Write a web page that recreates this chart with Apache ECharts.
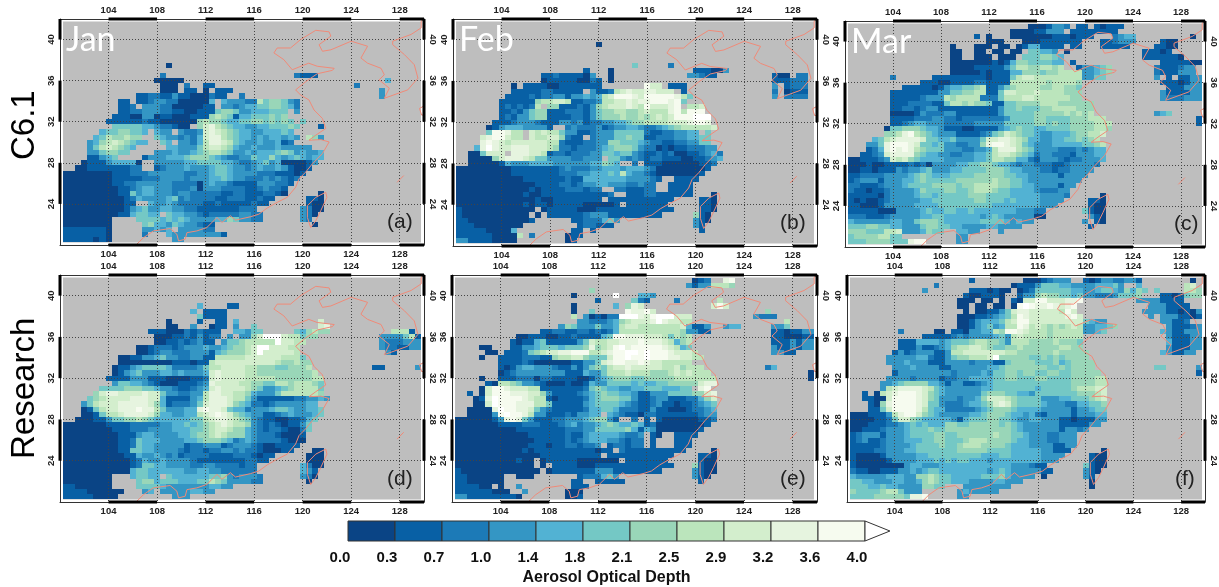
<!DOCTYPE html>
<html><head><meta charset="utf-8">
<style>html,body{margin:0;padding:0;background:#fff}#c{width:1219px;height:587px}</style>
<script src="https://cdn.jsdelivr.net/npm/echarts@6/dist/echarts.min.js"></script>
</head><body><div id="c"></div>
<script>
const palette=['#0a4485','#0860a5','#1c7ab7','#3496c4','#52b2d3','#74c8c5','#99d6b8','#bbe5bc','#d3eecd','#e6f4df','#f6fbef','#ffffff'];
const barLabels=['0.0','0.3','0.7','1.0','1.4','1.8','2.1','2.5','2.9','3.2','3.6','4.0'];
// Rows run from lat 42 down in 0.5 degree steps. Each space-separated block starts at column 0,10,20,...
// (column 0 = lon 100, 0.5 degrees per column). Characters are colour classes 0-b, '.' = no retrieval.
const janRows=["","","","","","","","","",". ........0.","",". .......2.. . .........2 111",". ......0000 0. . . ....4",". .......000 .2..11 . .........2 . ....4",". .......000 .11.0.111 . . ...3",". ...1122113 11000211.. 2 . ...3",". 11.1123322 000004.433 3227566532",". 112.333220 000011.332 3445566542",". 1122333221 1001115665 33444555.3",".........1 1100330110 0011167651 44555656..","........11 1111211000 0006766544 556656565. 5",".........5 5555443221 00.6897654 4334455565 ...1",".......455 66554.433. 3223898765 443344454.","......4576 6766..5433 2324899765 4434344343 .763",".....34678 76544..54. 3324799875 433433412.",".....35787 654.....44 3335788764 3343334333 33",".....33566 55....3334 3345677653 3434445653 4334",".....11345 ....133344 4566654322 3354464345 4344","....011134 4440..3333 3445555443 2234534000 013","...0011111 1122..1233 3433345543 3234334310 01",".000000001 1122233333 3223345543 3332221110 1",".000000001 1111222333 3233344543 3222323212",".000000001 1223333332 2220343321 111333221.",".000000000 1123443332 2230333222 21123221..",".000000000 1153443332 3322222112 21112210.. ...0",".000000000 0124333345 2322221122 211211.... .110",".000000000 011..43343 2222112111 11211..... .100",".000000000 0134533443 3221111111 222 3200",".000000000 1145544.54 4332122222 3322 320",".00000000. ...5555454 5433334465 3322 32",".00000000. ....564435 433211 . ..0",".11111110. ....33434. 333322",".11111110. ....2...43 33333331",".11111010. .........3 3"];
const febRows=["","","","","",". . ....0","","","",". . . 5.....2",". . ..1...0 . 111003",". .....11211 1103..0 .........3 3211 ...100.22",". .....01111 10021.0 . . ...111222",". 0.11110011 11111 ..a88.111. . ...3.1222",". 1111122111 11.3112789 8899888.1. . ...2.0111",".........1 1112122331 3343478aaa 98aaaaa975 . ...3.2222","........11 1111677887 1122377889 899aaa9a5.","........12 12127.6611 1213678889 87a8889a.7 78","........11 2135661112 2213566776 6787779a7a aa","........12 1335661111 2213566676 6767878aaa bbb",".......111 2333211133 2312233445 6677778889 aa9","......0134 4433331..2 3222312334 4322345677 7778","......5aa9 77.8787753 3112333555 5521122334 4.5",".....89aa8 77.8778862 11.2333556 5511222334 455",".....9a987 8888887721 1122336655 5432211223 355","....49b988 9998887622 1222345666 5322010112 2233","...005888. 9998871221 2223355455 3211212001 12342","...0000689 9987553333 22333.5532 3212211100 11234","...0000014 3334444333 33344654.. 2.11100000 0112",".000000000 1111111123 2223344434 4432000000 001",".000000000 1111111122 2334445474 3321000000 01",".000000000 0011111112 1144444443 33321..111 1",".000000000 0000111122 1233443332 2322..1111",".000000000 0001011112 22122..221 1122..1111",".000000000 0010011111 1111112..1 1122111111 ...0",".000000000 0000100111 11111.1111 1111111 .110",".000000000 0010110111 11000001.1 111111 .110",".100000000 0000.01111 1000111111 1111111 .110",".100000000 000.0.1111 1123331111 11111 610",".110000000 0001...... 11222453 . 310",".111000000 00 .122111 . 31",".111110000 4 11.1 . .1",".111111000 07.2.....0 11",".331111000 0........0 1"];
const marRows=["",". . . .0001332.1 1.10111",". . ........00 0011333.11 111111",". . ..1.0...00 0000011101 11...2344. ........0",". . ....000 0001111111 ...112333. ...100",". ........0. ..000.00.0 1441111.11 ...11111 ..1100",". ........00 ..00.00.00 .55443.0 . 11101",". ........00 ..000.000. 5556654 . 1111110",". ........00 0000010146 6555544.1. . ...1111100",". ........00 0011111357 7667767..1 33456 ..2111233",". ........00 0001011144 6665667777 33456 ..2111333","........2. .....11111 1111011157 8877777777 3355 ..3.1.1133",". ...1110011 1122111177 7777677776 . ...1110133",". 1111101344 5567113567 7776677665 . ....111333","........11 1111113355 6677115887 7787777666 . ...3111133","........11 1112333767 7772225777 8877777766 . ...3222333","........11 1222211577 6766511556 6667776666 66","........11 2212331111 1111113556 5556677776 66","........00 0013222331 1111113555 5566666767 67 ..345","........11 1122233221 2222222355 5566555566 6777 .........1","........11 2344333222 2233333555 5566565566 66777 .........1",".......055 6665443111 0011113456 5544555566 66776",".......667 9a76543331 1112356876 5543344456 6778",".....45789 9998554453 3335889987 6443344556 567","....3359aa a985545332 23369aa987 5433344444 5567","....1249a9 a976555333 2233479997 6533332223 2344","...1123899 9965443322 3344578876 5423322213 3344",".001112387 8654444333 3344577664 4213332122 3334",".000100111 1212033334 4556654432 3322211233 332",".001101113 2334533344 5555666544 3332212233 33",".112222333 3456544455 5566666554 4333331333 3",".123331333 4456555556 6666676655 4333333333",".221112333 4555566665 6677776655 443333133.",".211011233 3346555665 5677765544 44322233",".111110233 3345545555 5666555544 44433332 ...0",".101001233 3334455555 5566555454 4443333 .110",".110001333 3344445555 5555544444 444333 .100",".111110003 3334544554 4544444443 3322 5100",".222111233 3334455444 4443454333 3300 .310",".433333344 3356665444 4445555434 33 3.10",".555665544 3335665544 3333443333 . .1",".666555778 3334655..4 433...3",".566667755 .........3 3",".555666655 59aa.....3 3"];
const janResRows=["","","","","","",". . ...4....11",". . ..4.1111",". . ...51111",". ........0. ...1..11.4 . ...8",". ........00 ..3..011.3 ..5 ...89",". .....11100 0212111..4 4355.....5 46766 .....7771",". ......0001 1213122.3. 3368bbb877 566 ...3333571",". ......0011 212311.355 677777b887 7 ...3222333",". ...0012221 2333433456 678bb88877 . ...3221133",". ...0012332 2233314566 678b888887 . ....31",". 0011334533 2233117777 7888888777 5",". 0000000001 1101178888 8888887667 66",".........0 1134555542 2223577888 8776665566 67 ..11.....3",".........0 1345333443 4333489888 8776666666 667","........11 1133311100 0011289888 8777776666 6677",".........3 5544321000 1112398888 7766557767 7765",".......555 5666554332 1123489888 8765334567 7775","......6899 8888988533 2233799887 7643335777 7776",".....56788 8899988411 1134799987 7531111112 23343","....357888 9999986412 2235899986 5422123333 344","....015788 999a997533 3449a99854 4233345543 3445","....001577 8999986443 344789a986 5433112343 3345","...0001135 5667654444 4455789987 6532110011 245",".000000011 1122222334 4545678987 7632121011 35",".000000001 1122233334 4455678876 6432122100 25",".000000000 1113443333 4456678766 6432221000 1",".000000000 1125444333 3445666542 3432222100 0",".000000000 1125443333 3122333123 3321001111",".000000000 1155443333 2122122332 322100011. ..00",".000000000 0114334323 1222211112 221011 .000",".000000000 0012433433 3321111111 12211 .000",".000000000 0012554433 3322332222 122 4200",".000000000 0045544444 4334433222 222 431",".00000000. ..45544.54 4444455632 3332 320",".00000000. ...5664555 4445576533 3322 .0",".11000000. ...5555433 333334433",".111100000 0...34.333 334433",".111110000 .........3 33"];
const febResRows=["",". . . . 012..9a",". . . .........3 1337776",". . ...6",". . 0......b.. .443",". . ....1 521....2.. ....7",". . 0......4.6 98 ...8a8",". . 0..5.....a 99a8 . ..6",". . 7.301022bb b98abbb888 . 3222",". . .332223467 8889b98877 . .....7",". ........36 5333533478 8777777784 113..344 ...335",". .....11221 1221212477 7777777763 311 ...1101133",". .001110011 2111145aa9 9988875767 . ...1100011",". 1011451111 1358778899 9a99987467 . ...1113133",".....00... 1133455545 5569678ab9 aaaaa98745 . ...3113133","......00.1 1125678899 aaa7789aab babaaa9888 7 ...3311",".....0..11 1122211677 8865558aab aabaaa9988 77","........11 1121000000 1133589aa9 9a98877777","........10 1344333211 3135657889 8888877867 77 ..24","........01 2333333331 1143357778 7776667878 777 .........0",".....0..11 1222022111 1001345666 5566666777 7777 .........0","......1077 6533210001 0014335555 4544556666 6899",".....08aa9 8887711111 1125654433 4455544455 .9a","...1.08aaa 9998863111 1234565544 3113335555 6689","....019baa aa98771011 1124566655 3112331112 2468","....008baa a999775111 1134555543 2112311011 2345","...00009ba a998532111 1124455422 2113110001 2234","...00003ab aa97331112 13344.4321 1022111111 1233",".000000139 a953111223 33456631.. 2.1.100000 0112",".000000011 1122211123 4233456544 5412000000 001",".000000000 0111111112 2233555556 4143000000 01",".000000000 0001111112 1134444432 23.10..111 1",".000000000 0000111112 1234443321 22.1...111",".000000000 0001110112 21223.1221 22.1...111",".000000000 0010111111 1111011.21 111111111. ...0",".000000000 0000011111 11111.1111 1111111 .110",".000000000 0100.01111 10000000.1 111111 .100",".000000000 0000.0.111 1000111111 1111111 6100",".100000000 00000.0111 1111333111 11111 3100",".11000000. .000 .1222453 . 310",".11000000. . 11..11111 . .1",".111100.0. .3 111",".111111000 ..3......0 00",".331111111 10.......0 01"];
const marResRows=["",". . .1 00012333 1013322331 ........0",". .....2 ........01 1135554433 3344453..4 .......78",". ...3 .1110100.0 1255555544 3345543646 5.5....776",". . 1001110..1 3367665545 3322235556 ...1101566",". .........0 00.00.0.10 88aa88899a .........3 3331111",". .........0 0.00.00.0a ba99a989a. . .3331111",". . 0.00113589 9888887a8. . 3333110103",". .........0 001123457a 98888889a8 . .3.3331101",". .........0 013444578a a888888888 5433 ...33112",". .........0 013453477a 9787676787 334456 ....311123",".........2 .....00.11 0334476aa9 8777677777 3345 ...4311333",". ...1111123 2333345378 7777677777 . ....311133",".........1 1144443455 5677665377 7666676665 . ....411133",".........1 1131123467 7887655667 6666667766 . ....311133","........13 1233311377 8888888776 6666676666 6 ...431133",".......333 3344211356 67778b6666 6556565666 6",".......333 4333111333 3233311566 6655564566 66","........33 3433331133 3333445666 6666556566 66 ..55.....3","........13 3333333323 3334355665 6655665566 666 .........1",".......333 3233331223 3444455665 5566555566 6677","......3345 6666443133 1123455555 5555555566 6677","......3789 9998754333 3334455555 5545555567 7788","...1.0789a aa98654333 3335666554 4355555556 6678","...11008aa aa98653332 3346888765 5553334455 5678","....1069aa aa98553222 3445689865 5554333224 4556","....1158aa aa97544222 2234566654 4443333313 3455",".000111379 aa86543333 3445666544 3421333313 3344",".000011258 8654444431 4555665543 3443331101 1133",".000111223 4545444665 5666665654 3333331111 133",".001112333 4555655666 6666666654 3333331332 3",".123331333 4555566556 6666676655 433322333.",".123112333 4445566555 6777666654 433322333.",".111112333 3455556556 7776666544 433331133.",".111122333 4455555556 6666555544 44433111 ...0",".100001333 3344555555 5554445544 4443333 .100",".100000133 3344454545 5444344444 444333 .100",".100000000 3443334444 4444444433 3211 5100",".211001113 3434554444 4444345433 33311 310",".433333444 3366765544 4445556433 33.0 31",".554433344 3346765544 4333344333 . .0",".555445443 3336655 33333333 . .0",".655556775 333......3 433333",".555566666 599a.....3 3"];
const mainland=[[106.18,19.9],[106.87,20.7],[107.7,21.37],[109.08,21.6],[109.63,21.05],[109.77,20.4],[110.32,20.56],[110.46,21.2],[111.28,21.37],[112.1,21.7],[112.94,22.68],[113.35,22.2],[114.04,22.84],[114.46,22.42],[115.7,22.75],[116.39,23],[117.08,23.6],[117.9,24.15],[118.73,24.64],[119.42,25.62],[119.7,26.44],[120.25,27.1],[120.8,27.9],[121.63,28.9],[122.18,30.03],[121.5,30.26],[120.52,30.2],[121.08,30.69],[121.9,31.34],[121.63,32.32],[120.94,33.14],[120.52,34.12],[119.83,34.6],[119.42,35.1],[120.25,35.9],[121.2,36.67],[122.45,37],[122.6,37.2],[121.2,37.4],[120.5,37.7],[119.14,37.06],[118.45,38.04],[117.63,38.7],[117.9,39.18],[119,39.18],[119.83,40],[121.08,40.9],[122.18,40.75],[122.32,40.33],[121.35,39.5],[121.63,38.86],[122.32,39],[124,39.84],[125.35,39.35],[124.8,38.2],[125.35,37.7],[126.46,37.2],[126.73,36.57],[126.3,36.08],[127.14,35.26],[126.73,34.28],[128.66,35.1],[129.5,36.24],[129.2,37.55],[128.39,38.53],[127.42,39.5],[127.42,39.84],[128.94,40.5],[129.77,41.14],[129.77,41.8],[130,42]];
const taiwan=[[120.39,23.82],[121.08,24.64],[121.9,25.13],[122,24.64],[121.5,23.36],[121.08,22.36],[120.66,21.7],[120.39,22.68],[120.39,23.82]];
const okinawa=[[127.78,26.1],[128.33,26.76]];
const kyushu=[[130,33.53],[129.63,33.3],[129.8,32.65],[130,32.65]];
const thickLon=[[104,108],[112,116],[120,124],[128,130]];
const thickLat=[[40,42],[32,36],[24,28]];

const chart=echarts.init(document.getElementById('c'));
function cells(rows){const out=[];rows.forEach((row,r)=>{row.split(' ').forEach((blk,b)=>{[...blk].forEach((ch,i)=>{if(ch!=='.')out.push([100+(b*10+i)*0.5,42-r*0.5,parseInt(ch,12)]);});});});return out;}
const panels=[
 {rows:janRows,box:[60,19,424,245],month:'Jan',tag:'(a)'},
 {rows:febRows,box:[453,19,817,246],month:'Feb',tag:'(b)'},
 {rows:marRows,box:[845,21,1211,247],month:'Mar',tag:'(c)'},
 {rows:janResRows,box:[60,275,424,502],month:'',tag:'(d)'},
 {rows:febResRows,box:[452,275,817,502],month:'',tag:'(e)'},
 {rows:marResRows,box:[847,275,1212,502],month:'',tag:'(f)'}
];
const grid=[],xAxis=[],yAxis=[],series=[],graphic=[];
const lab={fontFamily:'Liberation Sans',fontWeight:'bold',fontSize:9.5,color:'#222'};
panels.forEach((p,i)=>{
 const[l,t,r,b]=p.box;
 grid.push({left:l,top:t,width:r-l,height:b-t,backgroundColor:'#fff',show:true,borderWidth:0});
 const xb=xAxis.length,yb=yAxis.length;
 ['bottom','top'].forEach((pos,k)=>xAxis.push({type:'value',gridIndex:i,position:pos,min:100,max:130,interval:4,z:4,
  axisLine:{onZero:false,lineStyle:{color:'#333',width:1}},axisTick:{show:false},
  axisLabel:{...lab,margin:4,showMinLabel:false,showMaxLabel:false},
  splitLine:{show:k===0,showMinLine:false,showMaxLine:false,lineStyle:{type:[1,2],color:'#444',width:1}}}));
 ['left','right'].forEach((pos,k)=>yAxis.push({type:'value',gridIndex:i,position:pos,min:20,max:42,interval:4,z:4,
  axisLine:{onZero:false,lineStyle:{color:'#333',width:1}},axisTick:{show:false},
  axisLabel:{...lab,margin:4,rotate:k===0?90:-90,showMinLabel:false,showMaxLabel:false},
  splitLine:{show:k===0,showMinLine:false,showMaxLine:false,lineStyle:{type:[1,2],color:'#444',width:1}}}));
 const ax={xAxisIndex:xb,yAxisIndex:yb};
 series.push({type:'custom',...ax,z:1,silent:true,clip:false,data:[[100.25,41.75,129.75,20.25]],
  renderItem:(pa,api)=>{const s=api.coord([api.value(0),api.value(1)]),e=api.coord([api.value(2),api.value(3)]);
   return{type:'rect',shape:{x:s[0],y:s[1],width:e[0]-s[0],height:e[1]-s[1]},style:{fill:'#bebebe'}};}});
 series.push({type:'custom',...ax,z:2,silent:true,progressive:0,clip:true,data:cells(p.rows),
  renderItem:(pa,api)=>{const lon=api.value(0),lat=api.value(1);const s=api.coord([lon-0.25,lat+0.25]),e=api.coord([lon+0.25,lat-0.25]);
   return{type:'rect',shape:{x:Math.round(s[0]),y:Math.round(s[1]),width:Math.round(e[0])-Math.round(s[0]),height:Math.round(e[1])-Math.round(s[1])},style:{fill:palette[api.value(2)]}};}});
 [mainland,taiwan,okinawa,kyushu].forEach(d=>series.push({type:'line',...ax,z:6,silent:true,data:d,showSymbol:false,symbol:'none',lineStyle:{color:'#f08a78',width:1}}));
 const seg=[];thickLon.forEach(([a,c])=>{seg.push([a,42,c,42]);seg.push([a,20,c,20]);});thickLat.forEach(([a,c])=>{seg.push([100,a,100,c]);seg.push([130,a,130,c]);});
 series.push({type:'custom',...ax,z:7,silent:true,clip:false,data:seg,renderItem:(pa,api)=>{const s=api.coord([api.value(0),api.value(1)]),e=api.coord([api.value(2),api.value(3)]);
   return{type:'line',shape:{x1:s[0],y1:s[1],x2:e[0],y2:e[1]},style:{stroke:'#000',lineWidth:3}};}});
 if(p.month)graphic.push({type:'text',left:l+6,top:t+4,z:20,style:{text:p.month,fill:'#fff',font:'400 34px Lato'}});
 graphic.push({type:'text',left:r-37,top:b-33,z:20,style:{text:p.tag,fill:'#222',font:'21px "Liberation Sans"'}});
});
graphic.push({type:'text',rotation:Math.PI/2,x:8,y:160,z:20,style:{text:'C6.1',fill:'#000',font:'33px "Liberation Sans"'}});
graphic.push({type:'text',rotation:Math.PI/2,x:8,y:459,z:20,style:{text:'Research',fill:'#000',font:'33px "Liberation Sans"'}});
const bi=panels.length;
grid.push({left:348,top:521,width:517,height:22});
xAxis.push({type:'value',gridIndex:bi,min:0,max:11,interval:1,axisLine:{show:false},axisTick:{show:false},splitLine:{show:false},
 axisLabel:{fontFamily:'Liberation Sans',fontWeight:'bold',fontSize:15,color:'#111',margin:9,padding:[0,16,0,0],formatter:v=>barLabels[v]},
 name:'Aerosol Optical Depth',nameLocation:'middle',nameGap:29,nameTextStyle:{fontFamily:'Liberation Sans',fontWeight:'bold',fontSize:16,color:'#111'}});
yAxis.push({type:'value',gridIndex:bi,min:0,max:1,show:false});
const barAx={xAxisIndex:xAxis.length-1,yAxisIndex:yAxis.length-1};
series.push({type:'custom',...barAx,silent:true,clip:false,data:palette.slice(0,11).map((c,i)=>[i]),renderItem:(pa,api)=>{const i=api.value(0);const s=api.coord([i,1]),e=api.coord([i+1,0]);
  return{type:'rect',shape:{x:s[0],y:s[1],width:e[0]-s[0],height:e[1]-s[1]},style:{fill:palette[i],stroke:'#333',lineWidth:1}};}});
series.push({type:'custom',...barAx,silent:true,clip:false,data:[[11]],renderItem:(pa,api)=>{const a=api.coord([11,1]),b=api.coord([11,0]),c=api.coord([11.53,0.5]);
  return{type:'polygon',shape:{points:[a,c,b]},style:{fill:'#fff',stroke:'#333',lineWidth:1}};}});
chart.setOption({animation:false,backgroundColor:'#fff',grid,xAxis,yAxis,series,graphic});
</script></body></html>
